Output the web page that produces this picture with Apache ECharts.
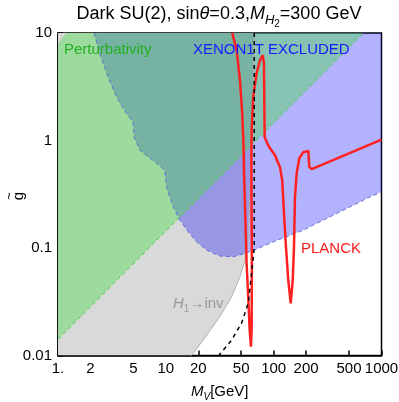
<!DOCTYPE html>
<html>
<head>
<meta charset="utf-8">
<script src="https://cdn.jsdelivr.net/npm/echarts@6/dist/echarts.min.js"></script>
<style>
html, body { margin: 0; padding: 0; background: #fff; }
#main { width: 399px; height: 402px; }
</style>
</head>
<body>
<div id="main"></div>
<script>
var xTicks = [1, 2, 5, 10, 20, 50, 100, 200, 500, 1000];
var yTicks = [0.01, 0.1, 1, 10];

// H1 -> inv excluded region
var invRegion = [[1, 0.01], [17.3, 0.01], [22.2, 0.0139], [31.7, 0.023], [40.7, 0.0352], [48.7, 0.054], [54.2, 0.0772], [57.4, 0.102], [60, 0.28], [63.5, 1.2], [66, 10], [1, 10]];
var invEdge = [[17.3, 0.01], [22.2, 0.0139], [31.7, 0.023], [40.7, 0.0352], [48.7, 0.054], [54.2, 0.0772], [57.4, 0.102], [60, 0.28], [63.5, 1.2], [66, 10]];
// perturbativity region
var pertRegion = [[1, 0.01415], [679, 10], [1.197, 10], [1, 8.02]];
var pertEdge = [[1, 0.01415], [679, 10]];
// XENON1T boundary
var xenonEdge = [[2.16, 10], [2.44, 6.44], [2.91, 3.9], [3.49, 2.54], [4.32, 1.78], [4.97, 1.49], [5.08, 1.08], [5.74, 0.813], [7.91, 0.633], [9.79, 0.53], [10.15, 0.37], [11.69, 0.2415], [13.49, 0.1817], [16.11, 0.1415], [19.28, 0.1142], [23.87, 0.0956], [31.7, 0.0841], [42.2, 0.0828], [54.2, 0.0891], [69.5, 0.0977], [99.2, 0.1142], [188.3, 0.1467], [384.6, 0.2097], [784, 0.299], [1000, 0.333]];
var xenonRegion = xenonEdge.concat([[1000, 10]]);
// PLANCK relic abundance contour
var planck = [[41.3, 10], [45.4, 6.9], [48.7, 3.63], [51.1, 1.79], [52.6, 0.87], [53.3, 0.43], [54.7, 0.18], [56.1, 0.072], [58.1, 0.035], [59.9, 0.0173], [61.5, 0.0121], [62.5, 0.0173], [62.8, 0.07], [62.3, 0.3], [62.2, 0.8], [62.5, 1.25], [64.6, 2.53], [69.5, 4.22], [74.6, 5.58], [79.1, 6.21], [81.3, 5.23], [81.8, 2.53], [82.5, 1.07], [83, 1.05], [89.1, 0.9], [102.8, 0.73], [114.4, 0.565], [120, 0.428], [124.6, 0.211], [130.1, 0.102], [136.6, 0.05], [143.9, 0.0306], [150.2, 0.05], [154.3, 0.102], [157.6, 0.297], [163.5, 0.497], [172.9, 0.685], [188.3, 0.778], [209.6, 0.8], [214.1, 0.568], [225.3, 0.541], [1000, 1.02]];
// black dashed threshold
var threshold = [[66, 10], [66.1, 0.102], [62.5, 0.0585], [58.1, 0.0308], [50.4, 0.02], [40.7, 0.0139], [32.2, 0.01048], [31.1, 0.01]];

var font = '"Liberation Sans", Arial, sans-serif';

function polySeries(pts, fill) {
	return {
		type: 'custom',
		data: pts,
		silent: true,
		clip: true,
		renderItem: function(params, api) {
			if (params.dataIndex !== 0) return;
			return {
				type: 'polygon',
				shape: { points: pts.map(function(p) { return api.coord(p); }) },
				style: { fill: fill }
			};
		}
	};
}

function lineSeries(pts, color, width, type) {
	return {
		type: 'line',
		data: pts,
		showSymbol: false,
		silent: true,
		clip: true,
		lineStyle: { color: color, width: width, type: type }
	};
}

function fmtX(v) {
	var r = Math.round(v * 1000) / 1000;
	return r === 1 ? '1.' : String(r);
}
function fmtY(v) {
	return String(Math.round(v * 1000) / 1000);
}

var myChart = echarts.init(document.getElementById('main'));
var option = {
	animation: false,
	grid: {
		left: 58, top: 33, right: 17.5, bottom: 46.5,
		outerBoundsMode: 'none', containLabel: false,
		show: true, borderColor: '#000', borderWidth: 1.5, backgroundColor: '#fff'
	},
	xAxis: {
		type: 'log', logBase: 10, min: 1, max: 1000,
		name: '{i|M}{s|V}{n|[GeV]}', nameLocation: 'middle', nameGap: 27,
		nameTextStyle: {
			color: '#000', fontFamily: font, fontSize: 15,
			rich: {
				i: { fontStyle: 'italic', fontSize: 15, fontFamily: font, lineHeight: 20, verticalAlign: 'top', padding: [2, 0, 0, 0] },
				s: { fontStyle: 'italic', fontSize: 10, fontFamily: font, lineHeight: 10, verticalAlign: 'top', padding: [10, 0, 0, 0] },
				n: { fontSize: 15, fontFamily: font, lineHeight: 20, verticalAlign: 'top', padding: [2, 0, 0, 0] }
			}
		},
		axisLine: { onZero: false, lineStyle: { color: '#000', width: 1.5 } },
		axisTick: { inside: true, length: 5, customValues: xTicks, lineStyle: { color: '#000', width: 1.5 } },
		axisLabel: { customValues: xTicks, formatter: fmtX, color: '#000', fontSize: 15, fontFamily: font, margin: 6 },
		splitLine: { show: false }
	},
	yAxis: {
		type: 'log', logBase: 10, min: 0.01, max: 10,
		axisLine: { onZero: false, lineStyle: { color: '#000', width: 1.5 } },
		axisTick: { inside: true, length: 5, customValues: yTicks, lineStyle: { color: '#000', width: 1.5 } },
		axisLabel: { customValues: yTicks, formatter: fmtY, color: '#000', fontSize: 15, fontFamily: font, margin: 6 },
		splitLine: { show: false }
	},
	graphic: [
		{
			type: 'text', x: 219, y: 14, z: 100,
			style: {
				text: '{n|Dark SU(2), sin}{i|\u03b8}{n|=0.3,}{i|M}{s|H}{ss|2}{n|=300 GeV}',
				align: 'center', verticalAlign: 'middle', fill: '#000',
				rich: {
					n: { fontSize: 18, fontFamily: font, lineHeight: 22, verticalAlign: 'top', padding: [2, 0, 0, 0] },
					i: { fontSize: 18, fontFamily: font, fontStyle: 'italic', lineHeight: 22, verticalAlign: 'top', padding: [2, 0, 0, 0] },
					s: { fontSize: 13, fontFamily: font, fontStyle: 'italic', lineHeight: 13, verticalAlign: 'top', padding: [11, 0, 0, 0] },
					ss: { fontSize: 10, fontFamily: font, lineHeight: 10, verticalAlign: 'top', padding: [16, 0, 0, 0] }
				}
			}
		},
		{
			type: 'text', x: 16, y: 196, z: 100, rotation: Math.PI / 2,
			style: {
				text: '{t|~}\n{g|g}', align: 'center', verticalAlign: 'middle', fill: '#000',
				rich: {
					t: { fontSize: 13, fontFamily: font, lineHeight: 6, align: 'center' },
					g: { fontSize: 15, fontFamily: font, lineHeight: 14, align: 'center' }
				}
			}
		},
		{
			type: 'text', x: 64, y: 50, z: 100,
			style: { text: 'Perturbativity', fill: '#22b022', font: '15px ' + font, verticalAlign: 'middle' }
		},
		{
			type: 'text', x: 193, y: 50, z: 100,
			style: { text: 'XENON1T EXCLUDED', fill: '#1a1aff', font: '15px ' + font, verticalAlign: 'middle' }
		},
		{
			type: 'text', x: 301, y: 249, z: 100,
			style: { text: 'PLANCK', fill: '#ff1a1a', font: '15px ' + font, verticalAlign: 'middle' }
		},
		{
			type: 'text', x: 173, y: 304, z: 100,
			style: {
				text: '{i|H}{s|1}{n|\u2192inv}', fill: '#999', verticalAlign: 'middle',
				rich: {
					i: { fontSize: 15, fontFamily: font, fontStyle: 'italic', fill: '#999', lineHeight: 18, verticalAlign: 'top', padding: [1, 0, 0, 0] },
					s: { fontSize: 10, fontFamily: font, fill: '#999', lineHeight: 10, verticalAlign: 'top', padding: [9, 0, 0, 0] },
					n: { fontSize: 15, fontFamily: font, fill: '#999', lineHeight: 18, verticalAlign: 'top', padding: [1, 0, 0, 0] }
				}
			}
		}
	],
	series: [
		polySeries(invRegion, '#d9d9d9'),
		polySeries(xenonRegion, 'rgba(0, 0, 255, 0.3)'),
		polySeries(pertRegion, 'rgba(75, 220, 75, 0.42)'),
		lineSeries(invEdge, '#b0b0b0', 1, 'solid'),
		lineSeries(pertEdge, '#55cc55', 1, [4, 3]),
		lineSeries(xenonEdge, '#6070d0', 1, [4, 3]),
		lineSeries(planck, '#ff2020', 2.5, 'solid'),
		lineSeries(threshold, '#000', 1.5, [4, 4])
	]
};
myChart.setOption(option);
</script>
</body>
</html>
